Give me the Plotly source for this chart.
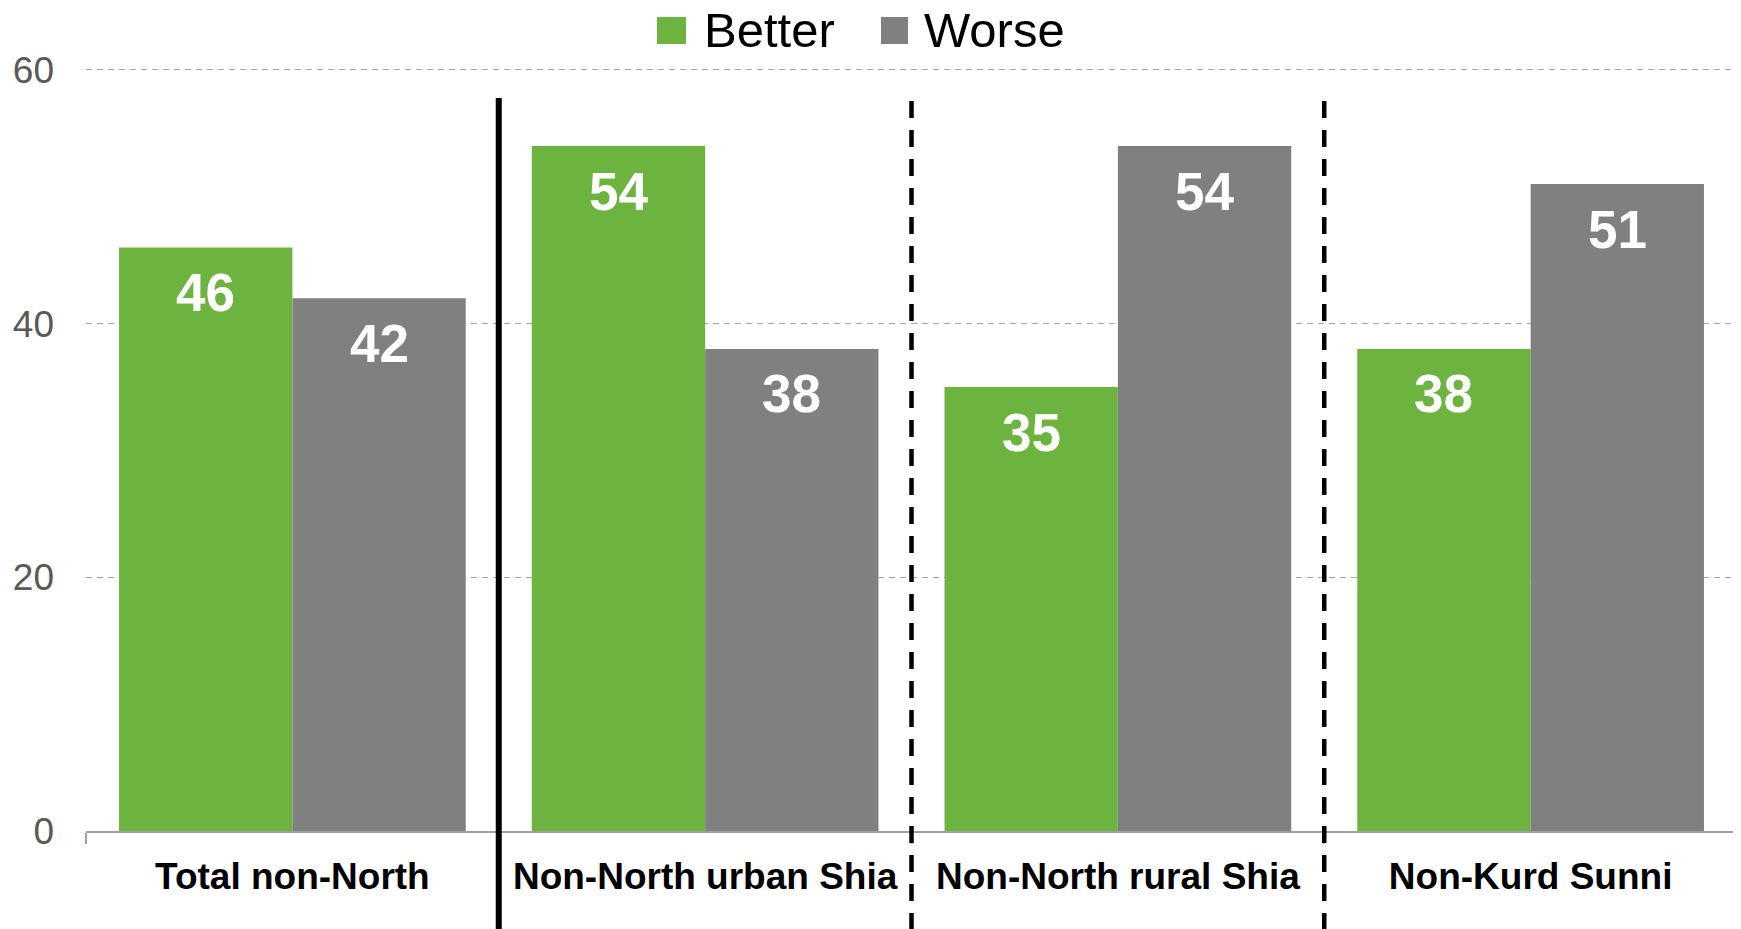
import plotly.graph_objects as go

categories = ["Total non-North", "Non-North urban Shia", "Non-North rural Shia", "Non-Kurd Sunni"]
series_names = ["Better", "Worse"]
better = [46, 54, 35, 38]
worse = [42, 38, 54, 51]
series_values = [better, worse]
series_colors = ["#6DB33F", "#808080"]
y_ticks = [0, 20, 40, 60]
separator_styles = ["solid", "dash", "dash"]

# figure geometry (the page adds an 8px body margin)
W, H = 1733, 921
ML, MR, MT, MB = 78, 4, 60, 98
Y_MAX = 60.15
BARGAP = 0.16
FONT = "Liberation Sans, Arial, sans-serif"
plot_w = W - ML - MR
plot_h = H - MT - MB


def px_x(x):
    return (x - ML) / plot_w


def px_y(y):
    return (H - MB - y) / plot_h


fig = go.Figure()
for name, vals, col in zip(series_names, series_values, series_colors):
    fig.add_trace(go.Bar(
        x=categories, y=vals, name=name,
        marker=dict(color=col, line=dict(width=0)),
        showlegend=False,
    ))

# data labels
n_series = len(series_names)
bw = (1 - BARGAP) / n_series
annotations = []
for s, vals in enumerate(series_values):
    off = -(1 - BARGAP) / 2 + bw * (s + 0.5)
    for i, v in enumerate(vals):
        annotations.append(dict(
            x=i + off, y=v, xref="x", yref="y", text=str(v),
            showarrow=False, yanchor="middle", xanchor="center", yshift=-45,
            font=dict(family=FONT, size=53, color="white", weight="bold"),
        ))

shapes = []
# legend (manual, to get large square keys)
legend_square_x = [649, 873]
legend_square_w = [29, 27]
legend_text_x = [694, 914]
for name, col, sx, sw, tx in zip(series_names, series_colors, legend_square_x,
                                 legend_square_w, legend_text_x):
    shapes.append(dict(
        type="rect", xref="paper", yref="paper",
        x0=px_x(sx), x1=px_x(sx + sw), y0=px_y(36), y1=px_y(9),
        fillcolor=col, line=dict(width=0), layer="above",
    ))
    annotations.append(dict(
        x=px_x(tx), y=px_y(22), xref="paper", yref="paper",
        text=name, showarrow=False, xanchor="left", yanchor="middle",
        height=54, valign="middle",
        font=dict(family=FONT, size=49, color="black"),
    ))

# separators between groups
top_px = {"solid": 90, "dash": 93}
for i, st in enumerate(separator_styles):
    shapes.append(dict(
        type="line", xref="x", yref="paper",
        x0=i + 0.5, x1=i + 0.5, y0=px_y(top_px[st]), y1=-0.2,
        line=dict(color="black", width=6 if st == "solid" else 4.5,
                  dash="solid" if st == "solid" else "17px,12px"),
    ))

fig.update_layout(
    width=W, height=H,
    margin=dict(l=ML, r=MR, t=MT, b=MB),
    paper_bgcolor="white", plot_bgcolor="white",
    barmode="group", bargap=BARGAP, bargroupgap=0,
    annotations=annotations, shapes=shapes,
    showlegend=False,
    font=dict(family=FONT),
)
fig.update_xaxes(
    showline=True, linecolor="#A0A0A0", linewidth=2,
    ticks="outside", tickson="boundaries", ticklen=11, tickcolor="#A0A0A0", tickwidth=2,
    tickfont=dict(family=FONT, size=37, color="black", weight="bold"),
    ticklabelstandoff=12, showgrid=False,
)
fig.update_yaxes(
    range=[0, Y_MAX], tickvals=y_ticks, ticktext=[str(t) for t in y_ticks],
    showgrid=True, gridcolor="#A6A6A6", gridwidth=1, griddash="6px,5px",
    zeroline=False, showline=False, ticks="",
    tickfont=dict(family=FONT, size=37, color="#595959"),
    ticklabelstandoff=31,
)

fig.write_html("out.html")
